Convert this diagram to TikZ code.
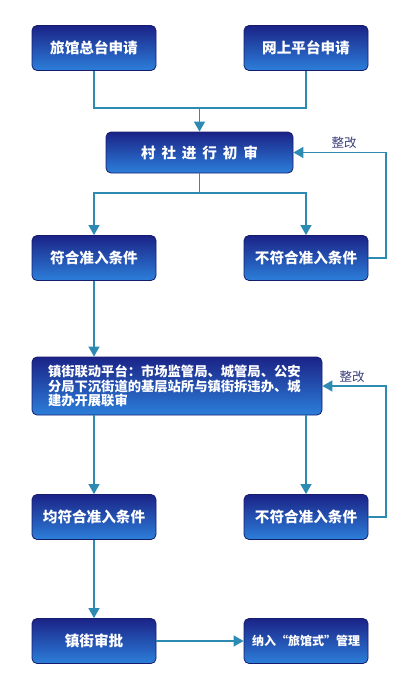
\documentclass[tikz,border=0pt]{standalone}
\usepackage{fontspec}
\newfontfamily\cjk{Noto Sans CJK SC}
\usetikzlibrary{arrows.meta}
\definecolor{navy}{HTML}{1B2387}
\definecolor{sky}{HTML}{2C7FDA}
\definecolor{flow}{HTML}{2D8BB3}
\definecolor{note}{HTML}{3A3F7A}

\begin{document}
\begin{tikzpicture}[x=1pt,y=-1pt,>={Triangle[length=10pt,width=11pt]},
	box/.style={draw=navy!80!black,line width=0.8pt,rounded corners=5pt,top color=navy,bottom color=sky,
		text=white,font=\cjk\bfseries\fontsize{14.6}{17}\selectfont,minimum width=124pt,minimum height=45pt,inner sep=0pt},
	link/.style={draw=flow,line width=1.3pt},
	fix/.style={text=note,font=\cjk\fontsize{12.5}{14}\selectfont}]
	\useasboundingbox (0,0) rectangle (416,699);
	% boxes
	\node[box] (desk) at (94,48) {旅馆总台申请};
	\node[box] (web) at (306,48) {网上平台申请};
	\node[box,minimum width=187pt,minimum height=41pt] (check) at (199.5,152.5)
		{村\hspace{0.4em}社\hspace{0.4em}进\hspace{0.4em}行\hspace{0.4em}初\hspace{0.4em}审};
	\node[box] (pass) at (94,258) {符合准入条件};
	\node[box] (fail) at (306,258) {不符合准入条件};
	\node[box,minimum width=290pt,minimum height=58pt,text width=258pt,inner xsep=16pt,align=left,
		font=\cjk\bfseries\fontsize{13.3}{14.5}\selectfont] (joint) at (177,386)
		{镇街联动平台：市场监管局、城管局、公安\\分局下沉街道的基层站所与镇街拆违办、城\\建办开展联审};
	\node[box] (allpass) at (94,517) {均符合准入条件};
	\node[box] (refail) at (306,517) {不符合准入条件};
	\node[box] (approve) at (94,641) {镇街审批};
	\node[box,font=\cjk\bfseries\fontsize{12}{14}\selectfont] (manage) at (306,641) {纳入“旅馆式”管理};
	% joints
	\coordinate (m1) at (199.5,108);
	\coordinate (m2) at (199.5,193);
	\coordinate (r1) at (386,152.5);
	\coordinate (r2) at (386,386);
	% connectors
	\draw[link] (desk.south) |- (m1) -| (web.south);
	\draw[link,->] (m1) -- (check.north);
	\draw[link] (check.south) -- (m2);
	\draw[link,->] (m2) -| (pass.north);
	\draw[link,->] (m2) -| (fail.north);
	\draw[link,->] (fail.east) -| (r1) |- (check.east);
	\node[fix,above] (redo1) at (344,152.5) {整改};
	\draw[link,->] (pass.south) -- (pass.south |- joint.north);
	\draw[link,->] (allpass.north |- joint.south) -- (allpass.north);
	\draw[link,->] (refail.north |- joint.south) -- (refail.north);
	\draw[link,->] (refail.east) -| (r2) |- (joint.east);
	\node[fix,above] (redo2) at (352,386) {整改};
	\draw[link,->] (allpass.south) -- (approve.north);
	\draw[link,->] (approve.east) -- (manage.west);
\end{tikzpicture}
\end{document}
